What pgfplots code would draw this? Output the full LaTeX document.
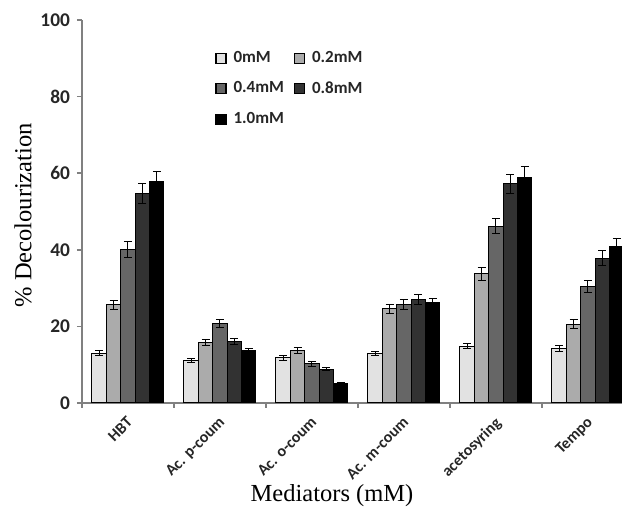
\documentclass[border=0pt]{standalone}
\usepackage{fontspec}
\setmainfont{Liberation Serif}
\newfontfamily\calfont{Carlito}
\usepackage{pgfplots}
\pgfplotsset{compat=1.18}
\definecolor{cA}{HTML}{E2E2E2}
\definecolor{cB}{HTML}{ABABAB}
\definecolor{cC}{HTML}{666666}
\definecolor{cD}{HTML}{323232}
\definecolor{cE}{HTML}{000000}
\definecolor{axgray}{HTML}{808080}
\begin{document}
\begin{tikzpicture}
\begin{axis}[
  at={(0,0)}, anchor=south west,
  scale only axis, width=270pt, height=191.5pt,
  xmin=-0.5, xmax=5.37, ymin=0, ymax=100,
  axis x line*=bottom, axis y line*=left,
  axis line style={-, draw=axgray, line width=0.75pt},
  tick align=outside, major tick length=2.5pt, minor tick length=2.5pt,
  ytick={0,20,...,100},
  ytick style={draw=axgray, line width=0.75pt},
  xtick={0,...,5},
  xticklabels={HBT, Ac. p-coum, Ac. o-coum, Ac. m-coum, acetosyring, Tempo},
  major x tick style={draw=none},
  minor xtick={-0.5,0.5,1.5,2.5,3.5,4.5},
  minor x tick style={draw=axgray, line width=0.75pt},
  /pgf/number format/assume math mode=true,
  yticklabel style={font=\calfont\bfseries\fontsize{9.7}{12}\selectfont, text=black!85},
  xticklabel style={font=\calfont\bfseries\fontsize{8}{9}\selectfont, text=black!85, xshift=-1pt, yshift=-3pt, rotate=45, anchor=north east, inner sep=0.5pt},
  ylabel={\% Decolourization},
  ylabel style={at={(rel axis cs:-0.1093,0.49)}, anchor=center, font=\fontsize{12.25}{14}\selectfont},
  xlabel={Mediators (mM)},
  xlabel style={at={(rel axis cs:0.463,0)}, anchor=center, yshift=-46.5pt, font=\fontsize{12.25}{14}\selectfont},
  ybar=0pt, bar width=7.2pt,
  legend image code/.code={\draw[#1, draw=black, line width=0.6pt] (0pt,-2.5pt) rectangle (5pt,2.5pt); \path (6.5pt,0pt);},
  legend columns=2,
  legend cell align=left,
  legend style={at={(rel axis cs:0.2463,0.93)}, anchor=north west, draw=none, fill=none,
    inner sep=0pt, row sep=4pt, text=black!85,
    font=\calfont\bfseries\fontsize{8.5}{10}\selectfont,
    /tikz/every even column/.append style={column sep=3pt}},
  error bars/y dir=both, error bars/y explicit,
  error bars/error bar style={black, line width=0.5pt},
  error bars/error mark options={rotate=90, mark size=2pt, black, line width=0.5pt},
]
\addplot[fill=cA, draw=black, line width=0.5pt] coordinates {
 (0,13.0) +- (0,0.7) (1,11.0) +- (0,0.5) (2,11.8) +- (0,0.7)
 (3,12.9) +- (0,0.6) (4,14.8) +- (0,0.7) (5,14.2) +- (0,0.8)};
\addplot[fill=cB, draw=black, line width=0.5pt] coordinates {
 (0,25.6) +- (0,1.2) (1,15.8) +- (0,0.7) (2,13.6) +- (0,0.8)
 (3,24.6) +- (0,1.2) (4,33.8) +- (0,1.7) (5,20.6) +- (0,1.1)};
\addplot[fill=cC, draw=black, line width=0.5pt] coordinates {
 (0,40.1) +- (0,2.0) (1,20.7) +- (0,1.0) (2,10.2) +- (0,0.6)
 (3,25.8) +- (0,1.3) (4,46.2) +- (0,2.0) (5,30.4) +- (0,1.6)};
\addplot[fill=cD, draw=black, line width=0.5pt] coordinates {
 (0,54.6) +- (0,2.6) (1,16.1) +- (0,0.8) (2,8.8) +- (0,0.4)
 (3,27.0) +- (0,1.3) (4,57.2) +- (0,2.5) (5,37.8) +- (0,2.0)};
\addplot[fill=cE, draw=black, line width=0.5pt] coordinates {
 (0,57.9) +- (0,2.6) (1,13.7) +- (0,0.6) (2,5.2) +- (0,0.2)
 (3,26.3) +- (0,1.0) (4,58.8) +- (0,3.0) (5,40.9) +- (0,2.0)};
\legend{0mM, 0.2mM, 0.4mM, 0.8mM, 1.0mM}
\end{axis}
\pgfresetboundingbox
\useasboundingbox (-41pt,-52pt) rectangle (270pt,201.5pt);
\end{tikzpicture}
\end{document}
